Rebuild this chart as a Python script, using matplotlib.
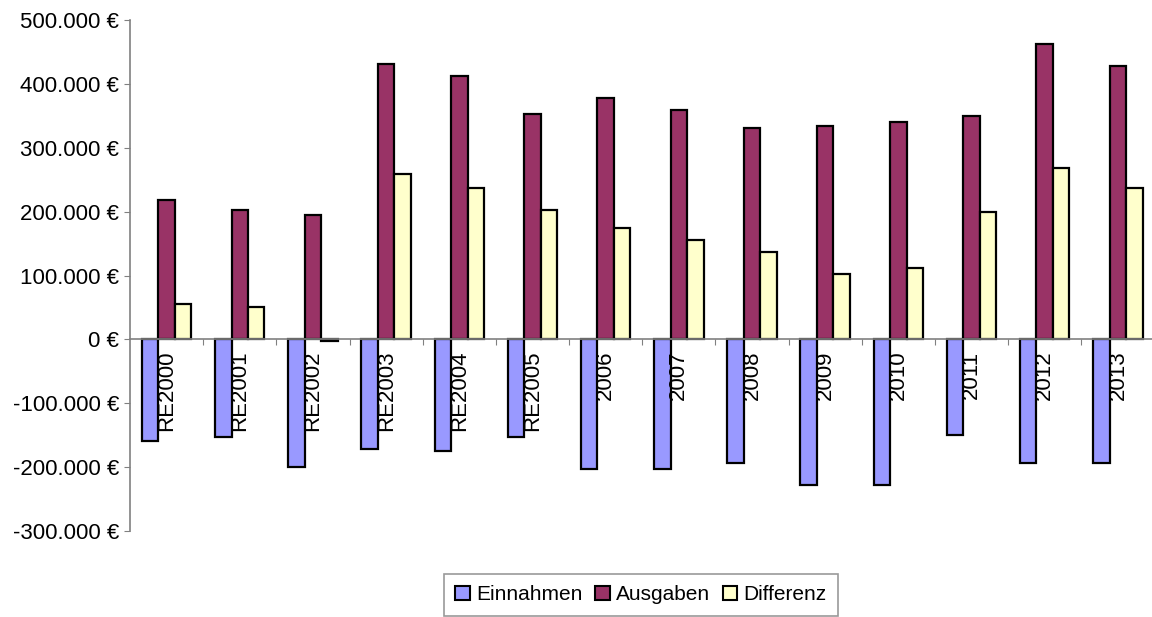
import numpy as np
import matplotlib.pyplot as plt
from matplotlib.ticker import FuncFormatter
from matplotlib.patches import Patch

plt.rcParams['font.family'] = ['Liberation Sans', 'DejaVu Sans']

jahre = ['RE2000', 'RE2001', 'RE2002', 'RE2003', 'RE2004', 'RE2005', '2006',
         '2007', '2008', '2009', '2010', '2011', '2012', '2013']
einnahmen = [-159000, -153000, -200000, -172000, -175000, -153000, -203000,
             -203000, -194000, -228000, -228000, -150000, -194000, -194000]
ausgaben = [218000, 203000, 194000, 431000, 412000, 353000, 378000,
            359000, 331000, 334000, 341000, 350000, 462000, 428000]
differenz = [56000, 50000, -3000, 259000, 237000, 203000, 175000,
             156000, 137000, 103000, 112000, 200000, 269000, 237000]

farben = ['#9999FF', '#993366', '#FFFFCC']
namen = ['Einnahmen', 'Ausgaben', 'Differenz']

fig = plt.figure(figsize=(11.52, 6.17), dpi=100)
ax = fig.add_axes([130 / 1152, 86 / 617, 1024.5 / 1152, 511 / 617])

x = np.arange(len(jahre))
w = 0.225
for k, werte in enumerate([einnahmen, ausgaben, differenz]):
    ax.bar(x + (k - 1) * w, werte, width=w, color=farben[k],
           edgecolor='black', linewidth=1.6, zorder=3)

ax.set_xlim(-0.5, len(jahre) - 0.5)
ax.set_ylim(-300000, 500000)
ax.set_yticks(np.arange(-300000, 500001, 100000))


def euro(v, pos):
    s = f'{abs(int(v)):,}'.replace(',', '.')
    return ('-' if v < 0 else '') + s + ' €'


ax.yaxis.set_major_formatter(FuncFormatter(euro))
ax.tick_params(axis='y', labelsize=16, length=4, color='#808080', pad=4)

# Kategoriegrenzen als Ticks auf der Nulllinie
ax.spines['bottom'].set_position(('data', 0))
ax.set_xticks(np.arange(0.5, len(jahre), 1.0))
ax.set_xticklabels([])
ax.tick_params(axis='x', length=4, color='#808080', direction='out')

for s in ['top', 'right']:
    ax.spines[s].set_visible(False)
for s in ['left', 'bottom']:
    ax.spines[s].set_color('#808080')
    ax.spines[s].set_linewidth(1.2)
    ax.spines[s].set_zorder(4)

for i, name in enumerate(jahre):
    ax.annotate(name, xy=(i, 0), xytext=(0, -8), textcoords='offset points',
                rotation=90, ha='center', va='top', fontsize=16, zorder=5)

handles = [Patch(facecolor=c, edgecolor='black', linewidth=1.5) for c in farben]
leg = fig.legend(handles, namen, loc='upper center', ncol=3,
                 bbox_to_anchor=(641 / 1152, 1 - 574 / 617),
                 fontsize=15, frameon=True, fancybox=False,
                 handlelength=0.7, handleheight=0.7, handletextpad=0.3,
                 columnspacing=0.6, borderpad=0.55, borderaxespad=0)
leg.get_frame().set_edgecolor('#808080')
leg.get_frame().set_linewidth(1.2)

fig.savefig('out.png', dpi=100)
